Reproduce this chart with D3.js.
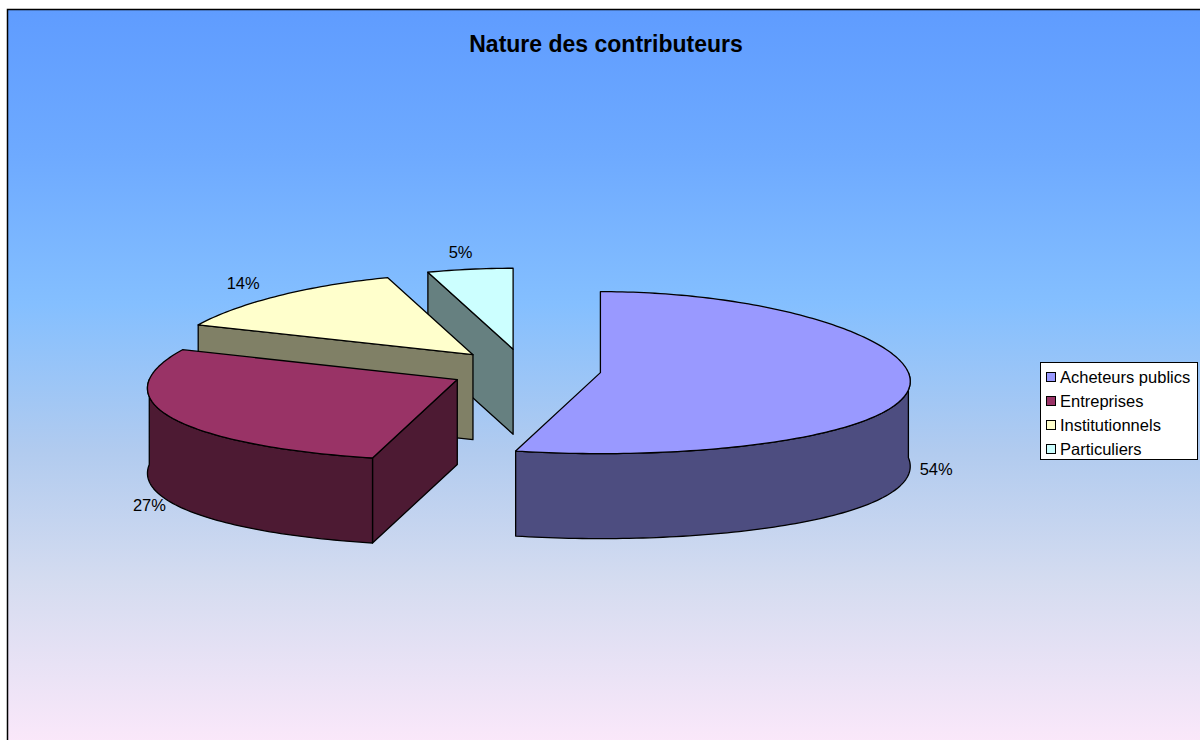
<!DOCTYPE html>
<html>
<head>
<meta charset="utf-8">
<script src="https://cdn.jsdelivr.net/npm/d3@7"></script>
<style>
  html, body { margin: 0; padding: 0; background: #fff; }
  svg { display: block; font-family: Arial, "Liberation Sans", sans-serif; }
</style>
</head>
<body>
<svg id="chart" width="1200" height="740"></svg>
<script>
// chart data
var title = 'Nature des contributeurs';
var categories = ['Acheteurs publics', 'Entreprises', 'Institutionnels', 'Particuliers'];
var values = [54, 27, 14, 5];
var topColors = ['#9999ff', '#993366', '#ffffcc', '#ccffff'];

var svg = d3.select('#chart');

// background gradient of the chart area
var defs = svg.append('defs');
var grad = defs.append('linearGradient').attr('id', 'bg')
    .attr('gradientUnits', 'userSpaceOnUse')
    .attr('x1', 0).attr('y1', 9).attr('x2', 0).attr('y2', 745);
[[0, '#5f9cff'], [0.2, '#6eaaff'], [0.4, '#84bfff'], [0.6, '#b1cbef'], [0.78, '#d5dcf0'], [1, '#fbe8fa']]
    .forEach(function (s) {
        grad.append('stop').attr('offset', s[0]).attr('stop-color', s[1]);
    });

svg.append('rect').attr('x', 7.5).attr('y', 9.5).attr('width', 1210).attr('height', 760)
    .attr('fill', 'url(#bg)').attr('stroke', '#000').attr('stroke-width', 1.5);

svg.append('text').attr('x', 606).attr('y', 52).attr('text-anchor', 'middle')
    .style('font-size', '23px').style('font-weight', 'bold').text(title);

// pseudo 3d geometry
var cx = 525, cy = 370;       // pie centre before explosion
var rx = 308, ry = 81;        // ellipse radii of the top face
var depth = 85;               // thickness of the pie
var ex = 76, ey = 21;         // explosion offset
var persp = 0.11;             // narrower at the back

var pie = d3.pie().sort(null).value(function (d) { return d; });
var arcs = pie(values);

function centreOf(a) {
    var mid = (a.startAngle + a.endAngle) / 2;
    return [cx + ex * Math.sin(mid), cy - ey * Math.cos(mid)];
}

function pt(c, ang, dy) {
    var s = Math.sin(ang), co = Math.cos(ang);
    return [c[0] + rx * s * (1 - persp * co), c[1] - ry * co + (dy || 0)];
}

function arcPoints(c, a0, a1, dy) {
    var n = Math.max(2, Math.ceil((a1 - a0) / 0.02));
    return d3.range(n + 1).map(function (i) {
        return pt(c, a0 + (a1 - a0) * i / n, dy);
    });
}

var line = d3.line().curve(d3.curveLinearClosed);

var slices = arcs.map(function (a, i) {
    return {arc: a, i: i, c: centreOf(a)};
}).sort(function (p, q) { return p.c[1] - q.c[1]; });

var g = svg.append('g').attr('class', 'pie');

slices.forEach(function (sl) {
    var a = sl.arc, c = sl.c;
    var top = d3.color(topColors[sl.i]);
    var side = d3.rgb(top.r * 0.5, top.g * 0.5, top.b * 0.5);
    var gs = g.append('g');

    function face(pts, fill) {
        gs.append('path').attr('d', line(pts)).attr('fill', fill)
            .attr('stroke', '#000').attr('stroke-width', 1.3).attr('stroke-linejoin', 'round');
    }

    var a0 = a.startAngle, a1 = a.endAngle;
    var bottomC = [c[0], c[1] + depth];

    // radial walls facing the viewer
    if (Math.sin(a0) < -1e-6) {
        var p = pt(c, a0);
        face([c, p, [p[0], p[1] + depth], bottomC], side);
    }
    if (Math.sin(a1) > 1e-6) {
        var q = pt(c, a1);
        face([c, q, [q[0], q[1] + depth], bottomC], side);
    }

    // front part of the outer wall
    var w0 = Math.max(a0, Math.PI / 2), w1 = Math.min(a1, 3 * Math.PI / 2);
    if (w1 > w0) {
        var upper = arcPoints(c, w0, w1, 0);
        var lower = arcPoints(c, w0, w1, depth).reverse();
        face(upper.concat(lower), side);
    }

    // top face
    face([c].concat(arcPoints(c, a0, a1, 0)), topColors[sl.i]);
});

// percentage labels
var total = d3.sum(values);
var fmt = d3.format('.0%');
svg.append('g').selectAll('text').data(slices).enter().append('text')
    .attr('x', function (d) {
        var mid = (d.arc.startAngle + d.arc.endAngle) / 2;
        var co = Math.cos(mid);
        return d.c[0] + rx * (1.09 + 0.07 * Math.max(0, -co)) * Math.sin(mid);
    })
    .attr('y', function (d) {
        var mid = (d.arc.startAngle + d.arc.endAngle) / 2;
        var co = Math.cos(mid);
        return d.c[1] - ry * (co < 0 ? 1.1 : 1.22) * co + (co < 0 ? depth : 0);
    })
    .attr('text-anchor', 'middle').attr('dominant-baseline', 'central')
    .style('font-size', '16.5px')
    .text(function (d) { return fmt(values[d.i] / total); });

// legend
var lg = svg.append('g').attr('transform', 'translate(1040,362)');
lg.append('rect').attr('x', 0.5).attr('y', 0.5).attr('width', 157).attr('height', 97)
    .attr('fill', '#fff').attr('stroke', '#000').attr('stroke-width', 1);
var items = lg.selectAll('g.item').data(categories).enter().append('g').attr('class', 'item')
    .attr('transform', function (d, i) { return 'translate(0,' + (15 + i * 24) + ')'; });
items.append('rect').attr('x', 6.5).attr('y', -4.5).attr('width', 9).attr('height', 9)
    .attr('fill', function (d, i) { return topColors[i]; }).attr('stroke', '#000');
items.append('text').attr('x', 20).attr('y', 0).attr('dominant-baseline', 'central')
    .style('font-size', '16.5px').text(function (d) { return d; });
</script>
</body>
</html>
